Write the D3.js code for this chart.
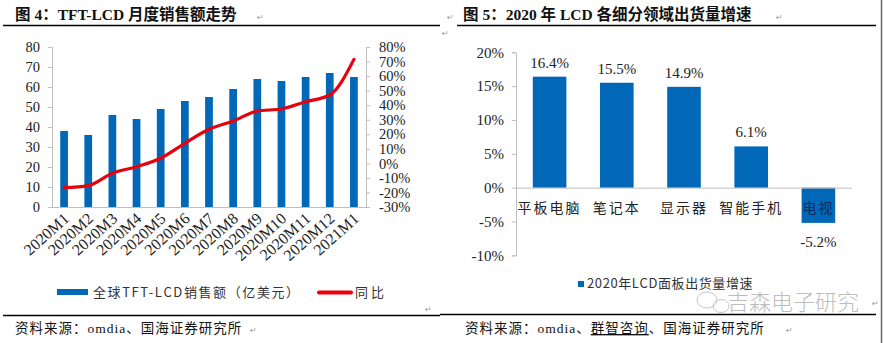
<!DOCTYPE html>
<html>
<head>
<meta charset="utf-8">
<script src="https://cdn.jsdelivr.net/npm/d3@7/dist/d3.min.js"></script>
<style>
  body { margin: 0; background: #fff; }
  svg { display: block; }
  .serif { font-family: "Liberation Serif", "Times New Roman", serif; }
</style>
</head>
<body>
<div id="chart"></div>
<script>
// 图4 数据
const months = ['2020M1', '2020M2', '2020M3', '2020M4', '2020M5', '2020M6', '2020M7',
  '2020M8', '2020M9', '2020M10', '2020M11', '2020M12', '2021M1'];
const sales = [38, 36, 46, 44, 49, 53, 55, 59, 64, 63, 65, 67, 65];
const yoy = [-16.7, -15.3, -6.8, -2.3, 3.5, 13.8, 23.4, 29.1, 36.0, 37.4, 42.4, 47.0, 71.5];
const leftTicks = [0, 10, 20, 30, 40, 50, 60, 70, 80];
const rightTicks = [-30, -20, -10, 0, 10, 20, 30, 40, 50, 60, 70, 80];

// 图5 数据
const segments = ['平板电脑', '笔记本', '显示器', '智能手机', '电视'];
const growth = [16.4, 15.5, 14.9, 6.1, -5.2];
const growthTicks = [-10, -5, 0, 5, 10, 15, 20];

const W = 884, H = 343;
const blue = '#0068B7', red = '#E8000B', axisGray = '#BFBFBF';

const svg = d3.select('#chart').append('svg')
  .attr('width', W)
  .attr('height', H);

// ---------- 标题与分隔线 ----------
function heading(x, label) {
  svg.append('text')
    .attr('x', x)
    .attr('y', 20)
    .attr('font-family', '"Liberation Serif", "Noto Sans CJK SC", serif')
    .attr('font-weight', 'bold')
    .attr('font-size', 15.5)
    .attr('fill', '#111')
    .text(label);
}
heading(15, '图 4：TFT-LCD 月度销售额走势');
heading(463, '图 5：2020 年 LCD 各细分领域出货量增速');

// 段落标记
[[257, 20], [447, 20], [776, 20], [442, 36], [425, 312], [872, 306], [250, 333], [786, 333]].forEach(p => {
  svg.append('text')
    .attr('x', p[0]).attr('y', p[1])
    .attr('font-size', 8).attr('fill', '#999')
    .attr('font-family', 'DejaVu Sans')
    .text('↵');
});

svg.append('line').attr('x1', 3).attr('x2', 440).attr('y1', 25.5).attr('y2', 25.5)
  .attr('stroke', '#000').attr('stroke-width', 1.3);
svg.append('line').attr('x1', 457).attr('x2', 876).attr('y1', 25.5).attr('y2', 25.5)
  .attr('stroke', '#000').attr('stroke-width', 1.3);
svg.append('line').attr('x1', 3).attr('x2', 440).attr('y1', 315.5).attr('y2', 315.5)
  .attr('stroke', '#000').attr('stroke-width', 1.3);
svg.append('line').attr('x1', 440).attr('x2', 876).attr('y1', 314.5).attr('y2', 314.5)
  .attr('stroke', '#000').attr('stroke-width', 1.3);
svg.append('line').attr('x1', 881.5).attr('x2', 881.5).attr('y1', 0).attr('y2', 343)
  .attr('stroke', '#666').attr('stroke-width', 1.5);

// 资料来源
function source(x, parts) {
  const t = svg.append('text')
    .attr('x', x).attr('y', 333)
    .attr('font-family', '"Liberation Serif", "Noto Sans CJK SC", serif')
    .attr('font-size', 13.5)
    .attr('letter-spacing', 1)
    .attr('fill', '#111');
  parts.forEach(p => {
    t.append('tspan').attr('text-decoration', p.u ? 'underline' : null).text(p.s);
  });
}
source(15, [{ s: '资料来源：omdia、国海证券研究所' }]);
source(465, [{ s: '资料来源：omdia、' }, { s: '群智咨询', u: true }, { s: '、国海证券研究所' }]);

// ---------- 图4 ----------
const x1 = d3.scaleBand().domain(months).range([52, 366]);
const yL = d3.scaleLinear().domain([0, 80]).range([207, 47]);
const yR = d3.scaleLinear().domain([-30, 80]).range([207, 47]);

const g1 = svg.append('g');

// 坐标轴
const leftAxis = g1.append('g')
  .attr('transform', `translate(${x1.range()[0]},0)`)
  .call(d3.axisLeft(yL).tickValues(leftTicks).tickSize(4).tickPadding(8));
const rightAxis = g1.append('g')
  .attr('transform', `translate(${x1.range()[1]},0)`)
  .call(d3.axisRight(yR).tickValues(rightTicks).tickSize(4).tickPadding(9)
    .tickFormat(d => d + '%'));
[leftAxis, rightAxis].forEach(a => {
  a.select('.domain').attr('stroke', axisGray);
  a.selectAll('.tick line').attr('stroke', axisGray);
  a.selectAll('text')
    .attr('class', 'serif')
    .attr('font-size', 14.5)
    .attr('fill', '#222');
});

g1.append('line')
  .attr('x1', x1.range()[0]).attr('x2', x1.range()[1])
  .attr('y1', yL(0) + 0.5).attr('y2', yL(0) + 0.5)
  .attr('stroke', axisGray);

// 柱
const bw = x1.bandwidth();
g1.selectAll('rect.bar')
  .data(months)
  .enter()
  .append('rect')
  .attr('class', 'bar')
  .attr('x', (d) => x1(d) + bw * 0.34)
  .attr('width', bw * 0.32)
  .attr('y', (d, i) => yL(sales[i]))
  .attr('height', (d, i) => yL(0) - yL(sales[i]))
  .attr('fill', blue);

// 同比线
const line = d3.line()
  .x((d, i) => x1(months[i]) + bw / 2)
  .y(d => yR(d))
  .curve(d3.curveMonotoneX);
g1.append('path')
  .datum(yoy)
  .attr('d', line)
  .attr('fill', 'none')
  .attr('stroke', red)
  .attr('stroke-width', 3.2)
  .attr('stroke-linecap', 'round');

// x 轴标签
g1.selectAll('text.xlab')
  .data(months)
  .enter()
  .append('text')
  .attr('class', 'xlab serif')
  .attr('text-anchor', 'end')
  .attr('font-size', 16)
  .attr('fill', '#222')
  .attr('transform', d => `translate(${x1(d) + bw / 2 + 6},${yL(0) + 13}) rotate(-42)`)
  .text(d => d);

// 图例
svg.append('rect').attr('x', 57).attr('y', 289).attr('width', 31).attr('height', 6).attr('fill', blue);
svg.append('text').attr('x', 93).attr('y', 297)
  .attr('font-family', '"Noto Sans CJK SC", sans-serif').attr('font-size', 13)
  .attr('letter-spacing', 1.6)
  .attr('fill', '#333').text('全球TFT-LCD销售额（亿美元）');
svg.append('line').attr('x1', 319).attr('x2', 351).attr('y1', 292.5).attr('y2', 292.5)
  .attr('stroke', red).attr('stroke-width', 4).attr('stroke-linecap', 'round');
svg.append('text').attr('x', 355).attr('y', 297)
  .attr('font-family', '"Noto Sans CJK SC", sans-serif').attr('font-size', 13)
  .attr('letter-spacing', 3)
  .attr('fill', '#333').text('同比');

// ---------- 图5 ----------
const x2 = d3.scaleBand().domain(segments).range([516, 852]).paddingInner(0.5).paddingOuter(0.25);
const y2 = d3.scaleLinear().domain([-10, 20]).range([255.4, 52.3]);
const g2 = svg.append('g');

const axis2 = g2.append('g')
  .attr('transform', 'translate(516,0)')
  .call(d3.axisLeft(y2).tickValues(growthTicks).tickSize(4).tickPadding(8)
    .tickFormat(d => d + '%'));
axis2.select('.domain').attr('stroke', axisGray);
axis2.selectAll('.tick line').attr('stroke', axisGray);
axis2.selectAll('text').attr('class', 'serif').attr('font-size', 15).attr('fill', '#222');

g2.selectAll('rect.bar2')
  .data(segments)
  .enter()
  .append('rect')
  .attr('class', 'bar2')
  .attr('x', d => x2(d))
  .attr('width', x2.bandwidth())
  .attr('y', (d, i) => y2(Math.max(0, growth[i])))
  .attr('height', (d, i) => Math.abs(y2(growth[i]) - y2(0)))
  .attr('fill', blue);

g2.append('line')
  .attr('x1', 516).attr('x2', 852)
  .attr('y1', y2(0) + 0.5).attr('y2', y2(0) + 0.5)
  .attr('stroke', axisGray);

// 数据标签
g2.selectAll('text.val')
  .data(segments)
  .enter()
  .append('text')
  .attr('class', 'val serif')
  .attr('text-anchor', 'middle')
  .attr('font-size', 15)
  .attr('fill', '#222')
  .attr('x', d => x2(d) + x2.bandwidth() / 2)
  .attr('y', (d, i) => growth[i] >= 0 ? y2(growth[i]) - 9 : y2(growth[i]) + 24)
  .text((d, i) => growth[i].toFixed(1) + '%');

// 分类标签
g2.selectAll('text.cat')
  .data(segments)
  .enter()
  .append('text')
  .attr('class', 'cat')
  .attr('text-anchor', 'middle')
  .attr('font-family', '"Noto Sans CJK SC", sans-serif')
  .attr('font-size', 14)
  .attr('letter-spacing', 2)
  .attr('fill', (d, i) => growth[i] < 0 ? '#0b2a5a' : '#222')
  .attr('x', d => x2(d) + x2.bandwidth() / 2)
  .attr('y', y2(0) + 25)
  .text(d => d);

// 图例
svg.append('rect').attr('x', 578).attr('y', 281).attr('width', 6).attr('height', 6).attr('fill', blue);
svg.append('text').attr('x', 587).attr('y', 288)
  .attr('font-family', '"Noto Sans CJK SC", sans-serif').attr('font-size', 13)
  .attr('letter-spacing', 0.6)
  .attr('fill', '#333').text('2020年LCD面板出货量增速');

// 水印
const wm = svg.append('g').attr('fill', 'none').attr('stroke', '#c8c8c8').attr('stroke-width', 1);
wm.append('ellipse').attr('cx', 707).attr('cy', 300).attr('rx', 10).attr('ry', 8);
wm.append('ellipse').attr('cx', 721).attr('cy', 306).attr('rx', 8).attr('ry', 6.5);
svg.append('text').attr('x', 727).attr('y', 310)
  .attr('font-family', '"Noto Sans CJK SC", sans-serif').attr('font-size', 22)
  .attr('font-weight', 300)
  .attr('fill', '#bdbdbd').text('吉森电子研究');
</script>
</body>
</html>
